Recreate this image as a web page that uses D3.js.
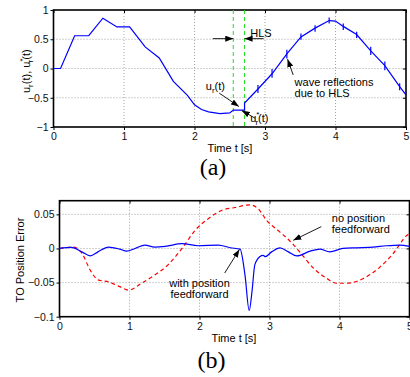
<!DOCTYPE html>
<html>
<head>
<meta charset="utf-8">
<script src="https://cdn.jsdelivr.net/npm/d3@7"></script>
<style>
  body { margin: 0; background: #fff; }
  svg { display: block; font-family: "Liberation Sans", Arial, sans-serif; }
</style>
</head>
<body>
<div id="chart"></div>
<script>
// ---- panel (a): u_r(t) with HLS ----
const timeA = [0, 0.1, 0.3, 0.5, 0.7, 0.9, 1.08, 1.3, 1.5, 1.7, 1.9, 2.0, 2.1, 2.2, 2.36, 2.5, 2.55, 2.71, 2.71,
    2.9, 3.1, 3.31, 3.51, 3.71, 3.91, 4.0, 4.11, 4.3, 4.5, 4.7, 4.91, 5.0];
const uA = [0, 0, 0.56, 0.56, 0.86, 0.71, 0.71, 0.37, 0.18, -0.22, -0.46, -0.62, -0.7, -0.74, -0.77, -0.76, -0.71, -0.71, -0.59,
    -0.35, -0.09, 0.25, 0.54, 0.69, 0.82, 0.81, 0.72, 0.58, 0.30, 0.05, -0.31, -0.45];
// little jumps from the wave reflections
const reflT = [2.9, 3.1, 3.31, 3.51, 3.71, 3.91, 4.11, 4.3, 4.5, 4.7, 4.91];
const reflTop = [-0.28, -0.01, 0.32, 0.60, 0.74, 0.87, 0.77, 0.63, 0.37, 0.12, -0.25];
const reflBot = [-0.42, -0.16, 0.17, 0.49, 0.63, 0.77, 0.66, 0.52, 0.23, -0.03, -0.37];
const hlsT = [2.55, 2.71];
const xTicks = [0, 1, 2, 3, 4, 5];
const yTicksA = [-1, -0.5, 0, 0.5, 1];

// ---- panel (b): TO position error ----
const timeNoFF = [0, 0.2, 0.32, 0.44, 0.55, 0.7, 0.86, 0.99, 1.17, 1.36, 1.55, 1.75, 1.94, 2.13, 2.32, 2.51, 2.72, 2.84,
    2.96, 3.15, 3.32, 3.44, 3.63, 3.82, 3.96, 4.1, 4.34, 4.58, 4.77, 4.96, 5.0];
const errNoFF = [0, 0.002, -0.007, -0.032, -0.046, -0.049, -0.056, -0.061, -0.051, -0.039, -0.024, 0, 0.027, 0.044, 0.056, 0.060, 0.064, 0.058,
    0.041, 0.024, 0.008, -0.006, -0.029, -0.044, -0.051, -0.051, -0.044, -0.027, -0.007, 0.019, 0.022];
const timeFF = [0, 0.17, 0.32, 0.44, 0.55, 0.7, 0.86, 0.96, 1.08, 1.22, 1.36, 1.51, 1.75, 1.98, 2.27, 2.44, 2.58, 2.65, 2.71, 2.75,
    2.79, 2.86, 2.91, 2.94, 3.03, 3.15, 3.27, 3.39, 3.58, 3.72, 3.86, 4.05, 4.24, 4.48, 4.67, 4.86, 5.0];
const errFF = [0, 0.0015, -0.005, -0.011, -0.005, 0.002, -0.001, -0.004, 0, 0.005, 0.002, 0.003, 0.007, 0.004, 0.005, 0.001, -0.001, -0.039, -0.091, -0.063,
    -0.024, -0.012, -0.010, -0.012, -0.005, 0.001, -0.005, -0.011, -0.004, -0.001, -0.005, 0, 0.001, 0.002, 0.004, 0.005, 0.003];
const yTicksB = [-0.1, -0.05, 0, 0.05];

const svg = d3.select("#chart")
    .append("svg")
        .attr("width", 410)
        .attr("height", 377);

svg.append("defs").append("marker")
    .attr("id", "arrow")
    .attr("viewBox", "0 0 8 6")
    .attr("refX", 8)
    .attr("refY", 3)
    .attr("markerWidth", 8)
    .attr("markerHeight", 6)
    .attr("markerUnits", "userSpaceOnUse")
    .attr("orient", "auto")
  .append("path")
    .attr("d", "M0,0L8,3L0,6Z")
    .attr("fill", "black");

const drawPanel = (box, yDomain, yTicks, gridY) => {
    const x = d3.scaleLinear().domain([0, 5]).range([box.left, box.right]);
    const y = d3.scaleLinear().domain(yDomain).range([box.bottom, box.top]);
    const g = svg.append("g");

    // dotted grid
    g.selectAll(".gx").data([1, 2, 3, 4]).enter().append("line")
        .attr("x1", d => x(d)).attr("x2", d => x(d))
        .attr("y1", box.top).attr("y2", box.bottom)
        .attr("stroke", "#8a8a8a").attr("stroke-width", 0.8).attr("stroke-dasharray", "1,2");
    g.selectAll(".gy").data(gridY).enter().append("line")
        .attr("x1", box.left).attr("x2", box.right)
        .attr("y1", d => y(d)).attr("y2", d => y(d))
        .attr("stroke", "#8a8a8a").attr("stroke-width", 0.8).attr("stroke-dasharray", "1,2");

    const fmt = d3.format("");
    const yAxis = g.append("g")
        .attr("transform", `translate(${box.left},0)`)
        .call(d3.axisLeft(y).tickValues(yTicks).tickFormat(fmt).tickSize(3).tickPadding(2));
    const xAxis = g.append("g")
        .attr("transform", `translate(0,${box.bottom})`)
        .call(d3.axisBottom(x).tickValues(xTicks).tickFormat(fmt).tickSize(3).tickPadding(3));
    const rAxis = g.append("g")
        .attr("transform", `translate(${box.right},0)`)
        .call(d3.axisRight(y).tickValues(yTicks).tickFormat("").tickSize(-3));
    const tAxis = g.append("g")
        .attr("transform", `translate(0,${box.top})`)
        .call(d3.axisTop(x).tickValues(xTicks).tickFormat("").tickSize(-3));

    [yAxis, xAxis, rAxis, tAxis].forEach(a => {
        a.select(".domain").remove();
        a.selectAll("line").attr("stroke", "black");
        a.selectAll("text").style("font-size", "10.5px").style("fill", "#111")
            .style("font-family", "'Liberation Sans', Arial, sans-serif");
    });

    g.append("rect")
        .attr("x", box.left).attr("y", box.top)
        .attr("width", box.right - box.left).attr("height", box.bottom - box.top)
        .attr("fill", "none").attr("stroke", "black").attr("stroke-width", 1.6);

    return { x, y, g };
};

const addArrow = (p, from, to) => {
    p.g.append("line")
        .attr("x1", p.x(from[0])).attr("y1", p.y(from[1]))
        .attr("x2", p.x(to[0])).attr("y2", p.y(to[1]))
        .attr("stroke", "black").attr("stroke-width", 0.9)
        .attr("marker-end", "url(#arrow)");
};

// ========== (a) ==========
const pa = drawPanel({ left: 53.5, right: 406, top: 10, bottom: 127 }, [-1, 1], yTicksA, [-0.5, 0, 0.5]);

pa.g.selectAll(".hls").data(hlsT).enter().append("line")
    .attr("x1", d => pa.x(d)).attr("x2", d => pa.x(d))
    .attr("y1", pa.y(1)).attr("y2", pa.y(-1))
    .attr("stroke", "#22dd22").attr("stroke-width", 1).attr("stroke-dasharray", "4,3");

const lineA = d3.line()
    .x((d, i) => pa.x(timeA[i]))
    .y(d => pa.y(d));

pa.g.append("path")
    .datum(uA)
    .attr("fill", "none")
    .attr("stroke", "#0000ff")
    .attr("stroke-width", 1.2)
    .attr("d", lineA);

pa.g.selectAll(".refl").data(reflT).enter().append("line")
    .attr("x1", d => pa.x(d)).attr("x2", d => pa.x(d))
    .attr("y1", (d, i) => pa.y(reflTop[i])).attr("y2", (d, i) => pa.y(reflBot[i]))
    .attr("stroke", "#0000ff").attr("stroke-width", 1.2);

// HLS marker
addArrow(pa, [2.26, 0.51], [2.55, 0.51]);
addArrow(pa, [2.98, 0.51], [2.71, 0.51]);
pa.g.append("text")
    .attr("x", pa.x(2.79)).attr("y", pa.y(0.54))
    .style("font-size", "11px").text("HLS");

// u_r(t)
const ur = pa.g.append("text")
    .attr("x", pa.x(2.16)).attr("y", pa.y(-0.37))
    .style("font-size", "11px");
ur.append("tspan").text("u");
ur.append("tspan").attr("dy", 3).style("font-size", "8px").text("r");
ur.append("tspan").attr("dy", -3).text("(t)");
addArrow(pa, [2.35, -0.42], [2.63, -0.65]);

// u_r*(t)
const urs = pa.g.append("text")
    .attr("x", pa.x(2.79)).attr("y", pa.y(-0.92))
    .style("font-size", "11px");
urs.append("tspan").text("u");
urs.append("tspan").attr("dy", -5).style("font-size", "8px").text("*");
urs.append("tspan").attr("dx", -4).attr("dy", 8).style("font-size", "8px").text("r");
urs.append("tspan").attr("dy", -3).text("(t)");
addArrow(pa, [2.86, -0.85], [2.67, -0.72]);

// wave reflections
pa.g.append("text")
    .attr("x", pa.x(3.42)).attr("y", pa.y(-0.30))
    .style("font-size", "11px").text("wave reflections");
pa.g.append("text")
    .attr("x", pa.x(3.42)).attr("y", pa.y(-0.49))
    .style("font-size", "11px").text("due to HLS");
addArrow(pa, [3.40, -0.11], [3.32, 0.16]);

// axis labels (anchored at start, runs upward from y=93)
const yLabA = svg.append("text")
    .attr("transform", "translate(30,93) rotate(-90)")
    .attr("text-anchor", "start")
    .style("font-size", "11px");
yLabA.append("tspan").text("u");
yLabA.append("tspan").attr("dy", 3).style("font-size", "8px").text("r");
yLabA.append("tspan").attr("dy", -3).text("(t), u");
yLabA.append("tspan").attr("dy", -5).style("font-size", "8px").text("*");
yLabA.append("tspan").attr("dx", -4).attr("dy", 8).style("font-size", "8px").text("r");
yLabA.append("tspan").attr("dy", -3).text("(t)");

svg.append("text")
    .attr("x", 230).attr("y", 152)
    .attr("text-anchor", "middle")
    .style("font-size", "11px")
    .text("Time t [s]");

svg.append("text")
    .attr("x", 213).attr("y", 175)
    .attr("text-anchor", "middle")
    .style("font-family", "'Liberation Serif', 'Times New Roman', serif")
    .style("font-size", "24px")
    .text("(a)");

// ========== (b) ==========
const pb = drawPanel({ left: 59.5, right: 409.5, top: 200.7, bottom: 316.7 }, [-0.1, 0.07], yTicksB, [-0.05, 0, 0.05]);

const lineNoFF = d3.line()
    .x((d, i) => pb.x(timeNoFF[i]))
    .y(d => pb.y(d))
    .curve(d3.curveMonotoneX);

pb.g.append("path")
    .datum(errNoFF)
    .attr("fill", "none")
    .attr("stroke", "#ff0000")
    .attr("stroke-width", 1.2)
    .attr("stroke-dasharray", "4,3")
    .attr("d", lineNoFF);

const lineFF = d3.line()
    .x((d, i) => pb.x(timeFF[i]))
    .y(d => pb.y(d))
    .curve(d3.curveMonotoneX);

pb.g.append("path")
    .datum(errFF)
    .attr("fill", "none")
    .attr("stroke", "#0000ff")
    .attr("stroke-width", 1.2)
    .attr("d", lineFF);

pb.g.append("text")
    .attr("x", pb.x(3.89)).attr("y", pb.y(0.039))
    .style("font-size", "11px").text("no position");
pb.g.append("text")
    .attr("x", pb.x(3.89)).attr("y", pb.y(0.0228))
    .style("font-size", "11px").text("feedforward");
addArrow(pb, [3.74, 0.032], [3.34, 0.012]);

pb.g.append("text")
    .attr("x", pb.x(2.0)).attr("y", pb.y(-0.057))
    .attr("text-anchor", "middle")
    .style("font-size", "11px").text("with position");
pb.g.append("text")
    .attr("x", pb.x(2.0)).attr("y", pb.y(-0.0725))
    .attr("text-anchor", "middle")
    .style("font-size", "11px").text("feedforward");
addArrow(pb, [2.36, -0.036], [2.57, -0.0015]);

svg.append("text")
    .attr("transform", "translate(24,260) rotate(-90)")
    .attr("text-anchor", "middle")
    .style("font-size", "11px")
    .text("TO Position Error");

svg.append("text")
    .attr("x", 234).attr("y", 342)
    .attr("text-anchor", "middle")
    .style("font-size", "11px")
    .text("Time t [s]");

svg.append("text")
    .attr("x", 211.5).attr("y", 368)
    .attr("text-anchor", "middle")
    .style("font-family", "'Liberation Serif', 'Times New Roman', serif")
    .style("font-size", "24px")
    .text("(b)");
</script>
</body>
</html>
